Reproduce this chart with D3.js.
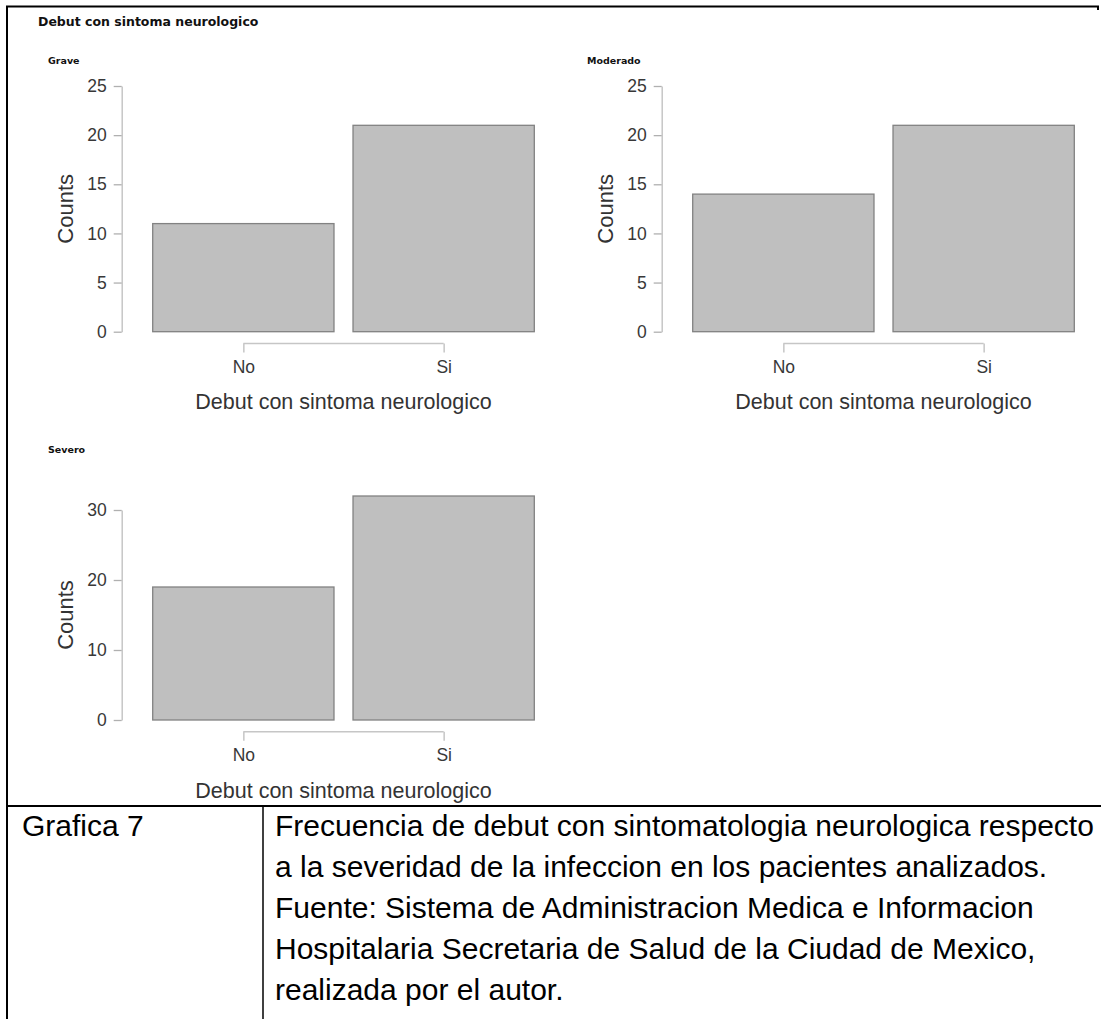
<!DOCTYPE html>
<html>
<head>
<meta charset="utf-8">
<script src="https://cdn.jsdelivr.net/npm/d3@7"></script>
<style>
  html, body { margin: 0; padding: 0; background: #fff; }
  svg { display: block; }
</style>
</head>
<body>
<svg id="chart" width="1101" height="1019"></svg>
<script>
// Counts of patients whose illness started with a neurological symptom,
// split by severity of the infection.
const categories = ["No", "Si"];
const severityLevels = ["Grave", "Moderado", "Severo"];
const graveCounts = [11, 21];
const moderadoCounts = [14, 21];
const severoCounts = [19, 32];
const graveTicks = [0, 5, 10, 15, 20, 25];
const moderadoTicks = [0, 5, 10, 15, 20, 25];
const severoTicks = [0, 10, 20, 30];

const mainTitle = "Debut con sintoma neurologico";
const xAxisTitle = "Debut con sintoma neurologico";
const yAxisTitle = "Counts";

const captionLabel = "Grafica 7";
const captionLines = [
  "Frecuencia de debut con sintomatologia neurologica respecto",
  "a la severidad de la infeccion en los pacientes analizados.",
  "Fuente: Sistema de Administracion Medica e Informacion",
  "Hospitalaria Secretaria de Salud de la Ciudad de Mexico,",
  "realizada por el autor."
];

const svg = d3.select("#chart");
const sansFont = "'Liberation Sans', Arial, Helvetica, sans-serif";
const titleFont = "'DejaVu Sans', 'Open Sans', sans-serif";

// page frame (document table borders)
const frame = svg.append("g").attr("stroke", "#000").attr("fill", "none");
frame.append("line").attr("x1", 6).attr("x2", 1099).attr("y1", 6.5).attr("y2", 6.5).attr("stroke-width", 2);
frame.append("line").attr("x1", 1098).attr("x2", 1098).attr("y1", 6).attr("y2", 10).attr("stroke-width", 2);
frame.append("line").attr("x1", 7).attr("x2", 7).attr("y1", 6).attr("y2", 1019).attr("stroke-width", 2);
frame.append("line").attr("x1", 6).attr("x2", 1101).attr("y1", 806).attr("y2", 806).attr("stroke-width", 2);
frame.append("line").attr("x1", 263).attr("x2", 263).attr("y1", 806).attr("y2", 1019).attr("stroke-width", 1.5);

// overall title
svg.append("text")
  .attr("x", 38).attr("y", 26)
  .attr("font-family", titleFont).attr("font-weight", "bold")
  .attr("font-size", 12.5).attr("fill", "#111")
  .text(mainTitle);

const panels = [
  { name: severityLevels[0], counts: graveCounts, ticks: graveTicks, ox: 0, axisX: 121.7, y0: 331.7, yTop: 86, titleY: 64 },
  { name: severityLevels[1], counts: moderadoCounts, ticks: moderadoTicks, ox: 540, axisX: 661.7, y0: 331.7, yTop: 86, titleY: 64 },
  { name: severityLevels[2], counts: severoCounts, ticks: severoTicks, ox: 0, axisX: 121.7, y0: 720, yTop: 510, titleY: 453 }
];

panels.forEach(p => {
  const g = svg.append("g");
  const maxTick = d3.max(p.ticks);

  const y = d3.scaleLinear().domain([0, maxTick]).range([p.y0, p.yTop]);
  const x = d3.scaleBand()
    .domain(categories)
    .range([p.ox + 152.7, p.ox + 534.3])
    .paddingInner(0.095)
    .paddingOuter(0);
  const xc = d3.scalePoint()
    .domain(categories)
    .range([x(categories[0]) + x.bandwidth() / 2, x(categories[1]) + x.bandwidth() / 2]);

  // panel title
  g.append("text")
    .attr("x", p.ox + (p.ox ? 47 : 48)).attr("y", p.titleY)
    .attr("font-family", titleFont).attr("font-weight", "bold")
    .attr("font-size", 9.5).attr("fill", "#111")
    .text(p.name);

  // bars
  g.selectAll("rect.bar")
    .data(categories.map((c, i) => ({ c, v: p.counts[i] })))
    .join("rect")
    .attr("class", "bar")
    .attr("x", d => x(d.c))
    .attr("width", x.bandwidth())
    .attr("y", d => y(d.v))
    .attr("height", d => y(0) - y(d.v))
    .attr("fill", "#bfbfbf")
    .attr("stroke", "#828282")
    .attr("stroke-width", 1.3);

  // y axis
  const yAxis = g.append("g")
    .attr("transform", `translate(${p.axisX},0)`)
    .call(d3.axisLeft(y).tickValues(p.ticks).tickSize(8).tickSizeOuter(0).tickPadding(7));
  yAxis.select(".domain").attr("stroke", "#c6c6c6").attr("stroke-width", 1.5);
  yAxis.selectAll(".tick line").attr("stroke", "#b0b0b0").attr("stroke-width", 1.3);
  yAxis.selectAll(".tick text")
    .attr("font-family", sansFont).attr("font-size", 17.5).attr("fill", "#383838");

  // x axis bracket between category centres
  const xAxis = g.append("g")
    .attr("transform", `translate(0,${p.y0 + 11.8})`)
    .call(d3.axisBottom(xc).tickSize(9).tickSizeOuter(0).tickPadding(8));
  xAxis.select(".domain").attr("stroke", "#c6c6c6").attr("stroke-width", 1.5)
    .attr("d", `M${xc(categories[0])},0H${xc(categories[1])}`);
  xAxis.selectAll(".tick line").attr("stroke", "#c6c6c6").attr("stroke-width", 1.5);
  xAxis.selectAll(".tick text")
    .attr("font-family", sansFont).attr("font-size", 17.5).attr("fill", "#383838");

  // axis titles
  g.append("text")
    .attr("x", (x.range()[0] + x.range()[1]) / 2)
    .attr("y", p.y0 + 77.5)
    .attr("text-anchor", "middle")
    .attr("font-family", sansFont).attr("font-size", 21.5).attr("fill", "#333")
    .text(xAxisTitle);

  g.append("text")
    .attr("transform", `translate(${p.ox + 73},${(p.y0 + p.yTop) / 2}) rotate(-90)`)
    .attr("text-anchor", "middle")
    .attr("font-family", sansFont).attr("font-size", 22).attr("fill", "#333")
    .text(yAxisTitle);
});

// caption table
svg.append("text")
  .attr("x", 22).attr("y", 836)
  .attr("font-family", sansFont).attr("font-size", 30).attr("fill", "#000")
  .text(captionLabel);

svg.append("g").selectAll("text")
  .data(captionLines)
  .join("text")
  .attr("x", 275)
  .attr("y", (d, i) => 836 + i * 41)
  .attr("font-family", sansFont).attr("font-size", 30).attr("fill", "#000")
  .text(d => d);
</script>
</body>
</html>
